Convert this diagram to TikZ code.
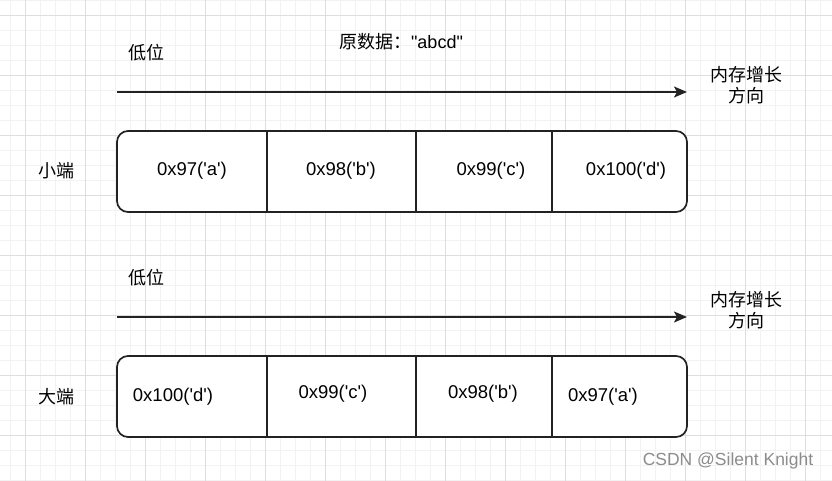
\documentclass[tikz,border=0pt]{standalone}
\usepackage{fontspec}
\setmainfont{Liberation Sans}[Ligatures=TeXOff]
\newfontfamily\cjk{Noto Sans CJK SC}
\usetikzlibrary{arrows.meta}
\definecolor{gridminor}{RGB}{242,242,242}
\definecolor{gridmajor}{RGB}{222,222,222}
\definecolor{linec}{RGB}{34,34,34}
\begin{document}
\begin{tikzpicture}[x=1pt,y=-1pt,
  lbl/.style={font=\fontsize{18.5}{20}\selectfont, inner sep=0pt, text=black},
  cn/.style={font=\cjk\fontsize{18}{21}\selectfont, inner sep=0pt, align=center, text=black},
  memrow/.style={draw=linec, line width=1.7pt, fill=white, rounded corners=11pt},
  divider/.style={draw=linec, line width=1.7pt},
  dirarrow/.style={draw=linec, line width=1.7pt, -{Stealth[length=13pt,width=11pt,inset=3pt]}}]
\useasboundingbox (0,0) rectangle (832,481);
\fill[white] (0,0) rectangle (832,481);
% grid
\foreach \x in {10,25,...,830} \draw[gridminor, line width=0.8pt] (\x,0) -- (\x,481);
\foreach \y in {0,15,...,480} \draw[gridminor, line width=0.8pt] (0,\y) -- (832,\y);
\foreach \x in {25,85,...,830} \draw[gridmajor, line width=0.8pt] (\x,0) -- (\x,481);
\foreach \y in {15,75,...,480} \draw[gridmajor, line width=0.8pt] (0,\y) -- (832,\y);

\node[cn] (title) at (401,42) {原数据：\fontspec{Liberation Sans}[Ligatures=TeXOff]"abcd"};

% little endian
\node[cn] (low1) at (146,53) {低位};
\coordinate (a1s) at (117,92);
\coordinate (a1e) at (687,92);
\draw[dirarrow] (a1s) -- (a1e);
\node[cn] (dir1) at (746,85) {内存增长\\方向};
\node[cn] (small) at (56,171) {小端};
\draw[memrow] (117,131) rectangle (687,212);
\draw[divider] (267,131) -- (267,212);
\draw[divider] (416,131) -- (416,212);
\draw[divider] (552,131) -- (552,212);
\node[lbl] (l1) at (192,171) {0x97('a')};
\node[lbl] (l2) at (341,171) {0x98('b')};
\node[lbl] (l3) at (491,171) {0x99('c')};
\node[lbl] (l4) at (626,171) {0x100('d')};

% big endian
\node[cn] (low2) at (146,278) {低位};
\coordinate (a2s) at (117,317);
\coordinate (a2e) at (687,317);
\draw[dirarrow] (a2s) -- (a2e);
\node[cn] (dir2) at (746,310) {内存增长\\方向};
\node[cn] (big) at (56,397) {大端};
\draw[memrow] (117,356) rectangle (687,437);
\draw[divider] (267,356) -- (267,437);
\draw[divider] (416,356) -- (416,437);
\draw[divider] (552,356) -- (552,437);
\node[lbl] (b1) at (173,397) {0x100('d')};
\node[lbl] (b2) at (333,394) {0x99('c')};
\node[lbl] (b3) at (483,394) {0x98('b')};
\node[lbl] (b4) at (603,397) {0x97('a')};

\node[font=\fontsize{17.5}{19}\selectfont, text={rgb,255:red,140;green,140;blue,140}, inner sep=0pt] (wm) at (728,461) {CSDN @Silent Knight};
\end{tikzpicture}
\end{document}
